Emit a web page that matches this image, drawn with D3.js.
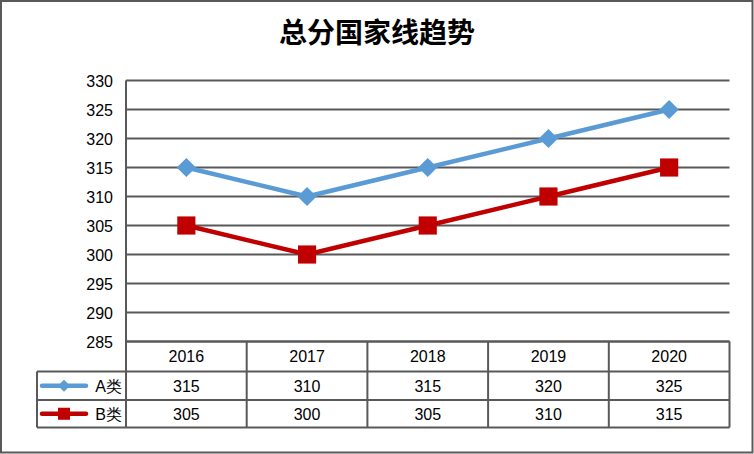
<!DOCTYPE html>
<html><head><meta charset="utf-8">
<script src="https://cdn.jsdelivr.net/npm/d3@7"></script>
<style>body{margin:0;background:#fff}svg{display:block}</style>
</head><body>
<svg id="c" width="754" height="454"></svg>
<script>
const title = "总分国家线趋势";
const years = ["2016","2017","2018","2019","2020"];
const seriesNames = ["A类","B类"];
const valuesA = [315,310,315,320,325];
const valuesB = [305,300,305,310,315];
const yTicks = [285,290,295,300,305,310,315,320,325,330];
const colors = ["#5B9BD5","#C00000"];

(function(){
const svg = d3.select("#c");
const W = 754, H = 454;
const pL = 126, pR = 729.5, pT = 80.5, pB = 341.5;
const gridColor = "#595959";
const font = "'Liberation Sans', Arial, sans-serif";

svg.append("rect").attr("x",1).attr("y",1).attr("width",W-2.5).attr("height",H-2.5)
  .attr("fill","#fff").attr("stroke",gridColor).attr("stroke-width",2);

svg.append("text").attr("x",377).attr("y",43).attr("text-anchor","middle")
  .attr("font-family","'Noto Sans CJK SC', sans-serif").attr("font-weight","bold")
  .attr("font-size",28).attr("fill","#000").text(title);

const x = d3.scaleBand().domain(years).range([pL,pR]);
const y = d3.scaleLinear().domain([285,330]).range([pB,pT]);

svg.append("g").selectAll("line").data(yTicks).join("line")
  .attr("x1",pL).attr("x2",pR).attr("y1",d=>y(d)).attr("y2",d=>y(d))
  .attr("stroke",gridColor).attr("stroke-width",2);

const yAxis = d3.axisLeft(y).tickValues(yTicks).tickSize(0).tickPadding(13);
const ga = svg.append("g").attr("transform",`translate(${pL},0)`).call(yAxis);
ga.select(".domain").remove();
ga.selectAll("text").attr("font-family",font).attr("font-size",16).attr("fill","#000").attr("dy","0.36em");

const rowTops = [341.5, 371.5, 400, 427.5];
const tableLeft = 37;
const tg = svg.append("g").attr("stroke",gridColor).attr("stroke-width",2);
tg.append("line").attr("x1",pL).attr("x2",pL).attr("y1",pT).attr("y2",rowTops[3]);
years.forEach((yr)=>{
  const xr = x(yr)+x.bandwidth();
  tg.append("line").attr("x1",xr).attr("x2",xr).attr("y1",rowTops[0]).attr("y2",rowTops[3]);
});
tg.append("line").attr("x1",tableLeft).attr("x2",tableLeft).attr("y1",rowTops[1]).attr("y2",rowTops[3]);
tg.append("line").attr("x1",pL).attr("x2",pR).attr("y1",rowTops[0]).attr("y2",rowTops[0]);
[1,2,3].forEach(i=>{
  tg.append("line").attr("x1",tableLeft).attr("x2",pR).attr("y1",rowTops[i]).attr("y2",rowTops[i]);
});

const cellText = (txt,cx,cy)=>svg.append("text").attr("x",cx).attr("y",cy).attr("dy","0.36em")
  .attr("text-anchor","middle").attr("font-family",font).attr("font-size",16).attr("fill","#000").text(txt);
years.forEach((yr,i)=>{
  const cx = x(yr)+x.bandwidth()/2;
  cellText(yr,cx,(rowTops[0]+rowTops[1])/2);
  cellText(valuesA[i],cx,(rowTops[1]+rowTops[2])/2);
  cellText(valuesB[i],cx,(rowTops[2]+rowTops[3])/2);
});

const diamond = d3.symbol().type(d3.symbolDiamond2);
const square = d3.symbol().type(d3.symbolSquare2);
[0,1].forEach(i=>{
  const cy = (rowTops[i+1]+rowTops[i+2])/2;
  svg.append("line").attr("x1",42).attr("x2",86).attr("y1",cy).attr("y2",cy)
    .attr("stroke",colors[i]).attr("stroke-width",4.5).attr("stroke-linecap","round");
  if(i===0){
    svg.append("path").attr("d",diamond.size(95)()).attr("transform",`translate(64,${cy})`).attr("fill",colors[i]);
  } else {
    svg.append("path").attr("d",square.size(185)()).attr("transform",`translate(64,${cy})`).attr("fill",colors[i]);
  }
  svg.append("text").attr("x",122).attr("y",cy).attr("dy","0.36em").attr("text-anchor","end")
    .attr("font-family",font).attr("font-size",16).attr("fill","#000").text(seriesNames[i]);
});

const line = d3.line().x((d,i)=>x(years[i])+x.bandwidth()/2).y(d=>y(d));
[valuesA,valuesB].forEach((vals,si)=>{
  svg.append("path").attr("d",line(vals)).attr("fill","none")
    .attr("stroke",colors[si]).attr("stroke-width",4.5).attr("stroke-linejoin","round");
  svg.append("g").selectAll("path").data(vals).join("path")
    .attr("d", si===0 ? diamond.size(235)() : square.size(420)())
    .attr("transform",(d,i)=>`translate(${x(years[i])+x.bandwidth()/2},${y(d)})`)
    .attr("fill",colors[si]);
});
})();
</script>
</body></html>
